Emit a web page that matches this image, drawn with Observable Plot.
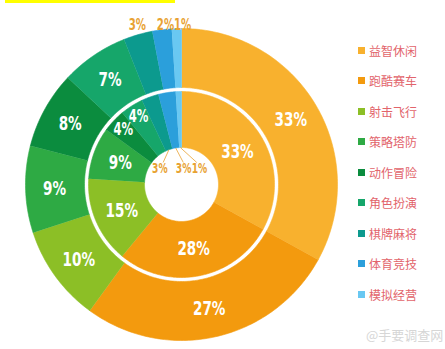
<!DOCTYPE html>
<html><head><meta charset="utf-8">
<script src="https://cdn.jsdelivr.net/npm/d3@7"></script>
<script src="https://cdn.jsdelivr.net/npm/@observablehq/plot@0.6"></script>
<style>
body{margin:0;background:#fff;}
#wrap{position:relative;width:445px;height:349px;overflow:hidden;background:#fff;}
#topbar{position:absolute;left:5px;top:0;width:170px;height:3px;background:#ffff00;}
#legend{position:absolute;left:358px;top:34.75px;font-family:"Noto Sans CJK SC",sans-serif;font-size:12px;color:#e2646b;}
#legend .row{display:flex;align-items:center;height:30.5px;}
#legend .sw{width:7px;height:7px;margin-right:4px;}
#wm{position:absolute;left:366px;top:325px;font-family:"Noto Sans CJK SC",sans-serif;font-size:13px;color:#d6d6d6;}
</style></head><body><div id="wrap"><div id="topbar"></div></div>
<script>
const categories = ["益智休闲","跑酷赛车","射击飞行","策略塔防","动作冒险","角色扮演","棋牌麻将","体育竞技","模拟经营"];
const outerValues = [33,27,10,9,8,7,3,2,1];
const innerValues = [33,28,15,9,4,4,3,3,1];
const colors = ["#F8B12E","#F39A0E","#8CBF26","#2EAA44","#0B8C3E","#16A66A","#0C9A8E","#2B9FDB","#69C8F2"];
const watermark = "@手要调查网";

const rad = Math.PI/180;
function ring(values, r0, r1, name) {
  const total = d3.sum(values);
  let acc = 0;
  const pts = [], labels = [];
  values.forEach((v, i) => {
    const a0 = acc/total*360, a1 = (acc+v)/total*360; acc += v;
    const n = Math.max(2, Math.ceil(a1 - a0));
    const id = name + i;
    for (let k = 0; k <= n; k++) { const a = (a0 + (a1-a0)*k/n)*rad; pts.push({id, color: colors[i], x: r1*Math.sin(a), y: r1*Math.cos(a)}); }
    for (let k = n; k >= 0; k--) { const a = (a0 + (a1-a0)*k/n)*rad; pts.push({id, color: colors[i], x: r0*Math.sin(a), y: r0*Math.cos(a)}); }
    labels.push({i, v, text: v + "%", mid: (a0+a1)/2});
  });
  return {pts, labels};
}
const outer = ring(outerValues, 97, 156, "o");
const inner = ring(innerValues, 37, 93, "i");
const polar = (r, a) => ({x: r*Math.sin(a*rad), y: r*Math.cos(a*rad)});

const outerBig = outer.labels.filter(d => d.v >= 5).map(d => ({...d, ...polar(127, d.mid)}));
const outerSmallRaw = outer.labels.filter(d => d.v < 5).map(d => ({...d, x0: polar(163, d.mid).x}));
const meanX = d3.mean(outerSmallRaw, d => d.x0);
const outerSmall = outerSmallRaw.map(d => ({...d, x: meanX + 1.12*(d.x0 - meanX) + 4, y: 159}));
const innerBig = inner.labels.filter(d => d.v >= 5).map(d => ({...d, ...polar(65, d.mid)}));
const innerMid = inner.labels.filter(d => d.v >= 4 && d.v < 5).map(d => ({...d, ...polar(80, d.mid)}));
const innerTiny = inner.labels.filter(d => d.v < 4);
const meanMid = d3.mean(innerTiny, d => d.mid);
const innerTinyL = innerTiny.map(d => {
  const s = polar(37, d.mid);
  const tx = 2.2*(d.mid - meanMid) - 0.5;
  return {...d, x1: s.x, y1: s.y, x2: tx*0.85, y2: 22, x: tx, y: 16};
});

const ff = '"DejaVu Sans",sans-serif';
const chart = Plot.plot({
  width: 445, height: 349, margin: 0,
  x: {domain: [-181, 264], axis: null},
  y: {domain: [-165, 184], axis: null},
  color: {type: "identity"},
  marks: [
    Plot.line(outer.pts, {x: "x", y: "y", z: "id", fill: "color", stroke: "color", strokeWidth: 0.6}),
    Plot.line(inner.pts, {x: "x", y: "y", z: "id", fill: "color", stroke: "color", strokeWidth: 0.6}),
    Plot.text(outerBig, {x: "x", y: "y", text: "text", fill: "white", fontSize: 20, fontWeight: "bold", fontFamily: ff}),
    Plot.text(innerBig, {x: "x", y: "y", text: "text", fill: "white", fontSize: 20, fontWeight: "bold", fontFamily: ff}),
    Plot.text(innerMid, {x: "x", y: "y", text: "text", fill: "white", fontSize: 17, fontWeight: "bold", fontFamily: ff}),
    Plot.text(outerSmall, {x: "x", y: "y", text: "text", fill: "#E8A232", fontSize: 15, fontWeight: "bold", fontFamily: ff}),
    Plot.link(innerTinyL, {x1: "x1", y1: "y1", x2: "x2", y2: "y2", stroke: "#E8A232", strokeWidth: 0.8}),
    Plot.text(innerTinyL, {x: "x", y: "y", text: "text", fill: "#E8A232", fontSize: 13.5, fontWeight: "bold", fontFamily: ff})
  ]
});
// condense the percentage glyphs horizontally
chart.querySelectorAll("text").forEach(t => {
  const tr = t.getAttribute("transform");
  if (tr) t.setAttribute("transform", tr + " scale(0.68,1)");
});
const wrap = document.getElementById("wrap");
chart.style.position = "absolute"; chart.style.left = "0"; chart.style.top = "0";
wrap.appendChild(chart);

const legend = document.createElement("div");
legend.id = "legend";
categories.forEach((c, i) => {
  const row = document.createElement("div"); row.className = "row";
  const sw = document.createElement("div"); sw.className = "sw"; sw.style.background = colors[i];
  const t = document.createElement("span"); t.textContent = c;
  row.appendChild(sw); row.appendChild(t); legend.appendChild(row);
});
wrap.appendChild(legend);
const wm = document.createElement("div"); wm.id = "wm"; wm.textContent = watermark; wrap.appendChild(wm);
</script></body></html>
